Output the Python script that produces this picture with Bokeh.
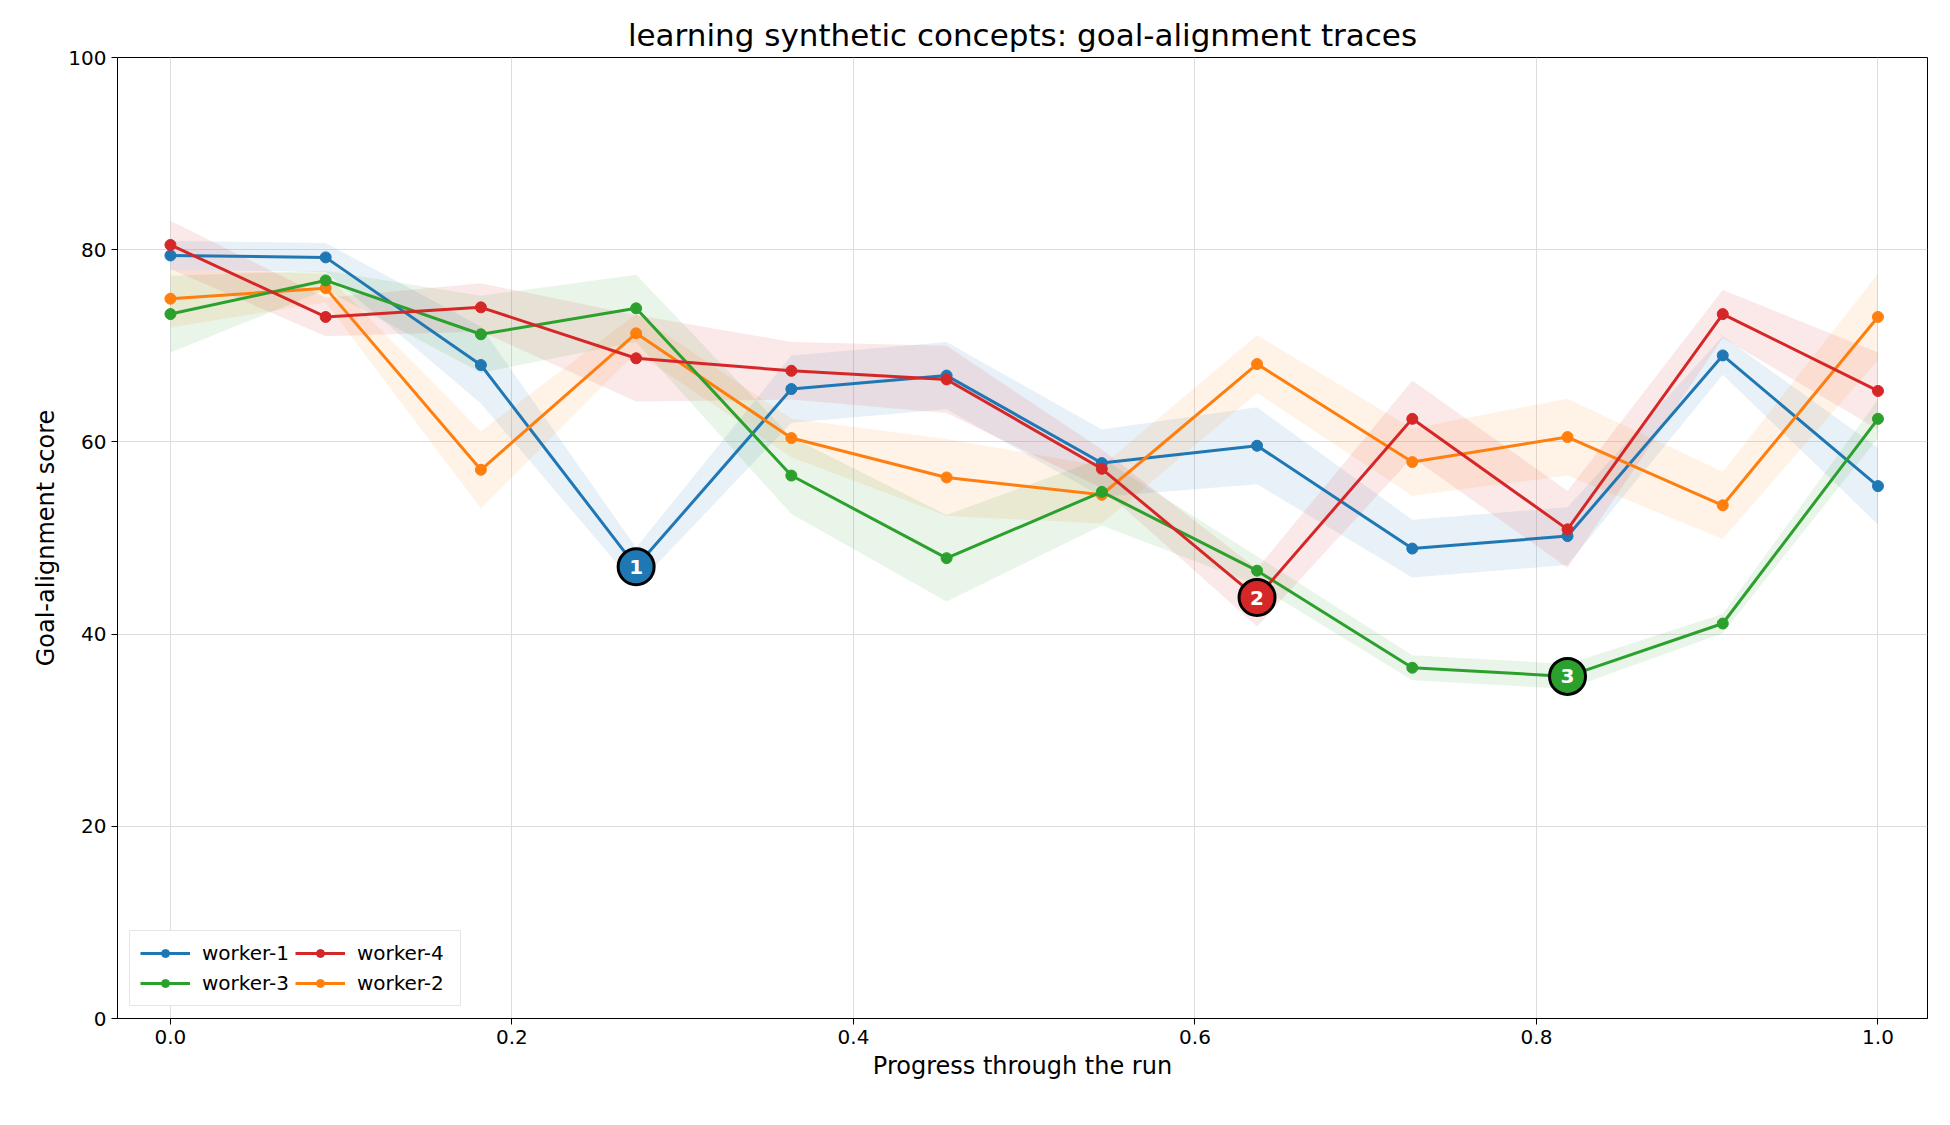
from bokeh.plotting import figure
from bokeh.models import Range1d, Legend, LegendItem, ColumnDataSource
from bokeh.embed import file_html
from bokeh.resources import INLINE

x = [i / 11 for i in range(12)]
names = ["worker-1", "worker-2", "worker-3", "worker-4"]
colors = ["#1f77b4", "#ff7f0e", "#2ca02c", "#d62728"]
w1 = [79.4, 79.2, 68.0, 47.0, 65.5, 66.9, 57.8, 59.6, 48.9, 50.2, 69.0, 55.4]
w2 = [74.9, 76.0, 57.1, 71.3, 60.4, 56.3, 54.5, 68.1, 57.9, 60.5, 53.4, 73.0]
w3 = [73.3, 76.8, 71.2, 73.9, 56.5, 47.9, 54.8, 46.6, 36.5, 35.6, 41.1, 62.4]
w4 = [80.5, 73.0, 74.0, 68.7, 67.4, 66.5, 57.2, 43.8, 62.4, 50.9, 73.3, 65.3]
s1 = [1.5, 1.5, 4.0, 2.0, 3.5, 3.5, 3.5, 4.0, 3.0, 3.0, 2.0, 4.0]
s2 = [3.0, 1.5, 4.0, 2.0, 2.0, 4.0, 3.0, 3.0, 3.5, 4.0, 3.5, 4.5]
s3 = [4.0, 1.0, 4.0, 3.5, 4.0, 4.5, 3.5, 1.5, 1.3, 1.3, 1.0, 2.0]
s4 = [2.5, 2.0, 2.5, 4.5, 3.0, 3.5, 2.0, 3.0, 4.0, 4.0, 2.5, 4.0]
series = [w1, w2, w3, w4]
spreads = [s1, s2, s3, s4]
marks = [(0, 3, "1"), (3, 7, "2"), (2, 9, "3")]

F = "DejaVu Sans"
p = figure(width=1934, height=1100, output_backend="svg", toolbar_location=None,
           x_range=Range1d(-0.031, 1.029), y_range=Range1d(0, 100),
           min_border_left=117, min_border_top=57, min_border_right=7, min_border_bottom=82)
p.title.text = "learning synthetic concepts: goal-alignment traces"
p.title.align = "center"
p.title.text_font = F
p.title.text_font_size = "31px"
p.title.text_font_style = "normal"
p.title.text_color = "black"
p.xaxis.axis_label = "Progress through the run"
p.yaxis.axis_label = "Goal-alignment score"
for ax in (p.xaxis, p.yaxis):
    ax.axis_label_text_font = F
    ax.axis_label_text_font_size = "24px"
    ax.axis_label_text_font_style = "normal"
    ax.axis_label_text_color = "black"
    ax.major_label_text_font = F
    ax.major_label_text_font_size = "20px"
    ax.major_label_text_color = "black"
    ax.minor_tick_line_color = None
    ax.major_tick_out = 6
    ax.major_tick_in = 0
    ax.axis_line_color = "black"
    ax.major_tick_line_color = "black"
p.xaxis.ticker = [0, 0.2, 0.4, 0.6, 0.8, 1.0]
p.xaxis.major_label_overrides = {0: "0.0", 0.2: "0.2", 0.4: "0.4", 0.6: "0.6", 0.8: "0.8", 1.0: "1.0"}
p.yaxis.ticker = [0, 20, 40, 60, 80, 100]
p.grid.grid_line_color = "#dddddd"
p.outline_line_color = "black"

items = {}
for ys, sp, c in zip(series, spreads, colors):
    lo = [a - b for a, b in zip(ys, sp)]
    hi = [a + b for a, b in zip(ys, sp)]
    p.varea(x=x, y1=lo, y2=hi, fill_color=c, fill_alpha=0.1)
for ys, c, n in zip(series, colors, names):
    r1 = p.line(x, ys, line_color=c, line_width=3)
    r2 = p.scatter(x, ys, size=11, fill_color=c, line_color=c)
    items[n] = LegendItem(label=n, renderers=[r1, r2])

mx = [x[j] for i, j, t in marks]
my = [series[i][j] for i, j, t in marks]
mc = [colors[i] for i, j, t in marks]
mt = [t for i, j, t in marks]
src = ColumnDataSource(dict(x=mx, y=my, c=mc, t=mt))
p.scatter("x", "y", source=src, size=36, fill_color="c", line_color="black", line_width=3)
p.text("x", "y", text="t", source=src, text_color="white", text_font_style="bold",
       text_font_size="20px", text_align="center", text_baseline="middle", text_font={"value": F})

order = ["worker-1", "worker-3", "worker-4", "worker-2"]
leg = Legend(items=[items[n] for n in order], location="bottom_left", ncols=3,
             label_text_font=F, label_text_font_size="20px", label_text_color="black",
             border_line_color="#cccccc", glyph_width=50, spacing=6, padding=10, margin=12,
             label_standoff=12)
p.add_layout(leg)

open("out.html", "w").write(file_html(p, INLINE))
